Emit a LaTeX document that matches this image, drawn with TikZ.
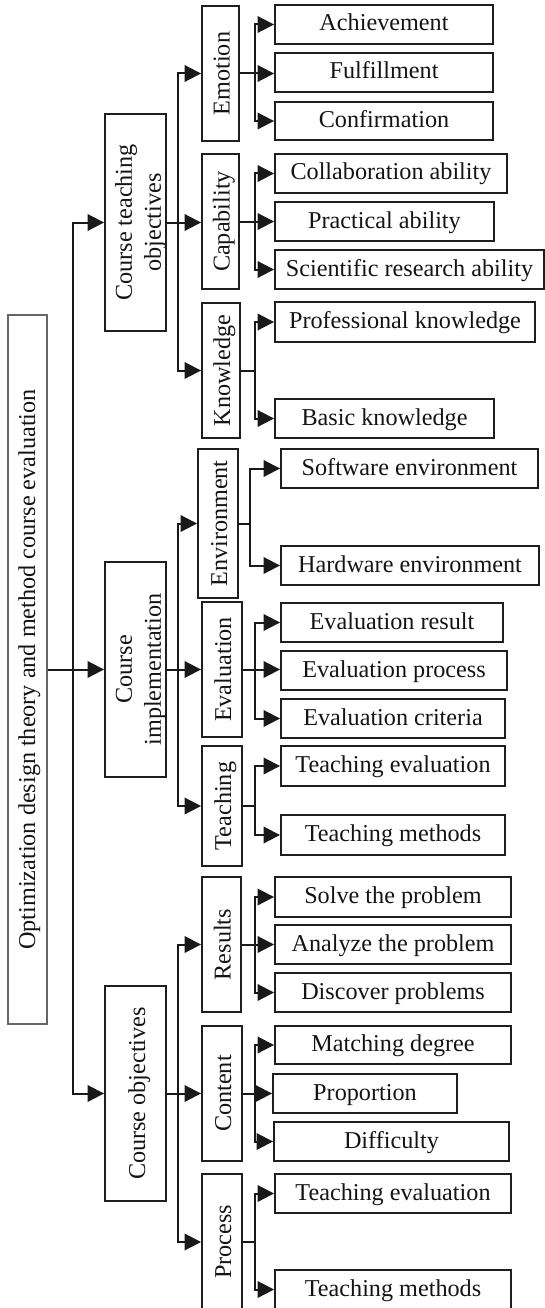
\documentclass[tikz,border=0pt]{standalone}
\usepackage{fontspec}
\setmainfont{Liberation Serif}
\usetikzlibrary{arrows.meta}
\newcommand\rt[2][18]{\rotatebox{90}{\raisebox{0pt}[#1pt][0pt]{#2}}}
\newcommand\rtt[2][50.8]{\rotatebox{90}{\raisebox{0pt}[#1pt][0pt]{\begin{tabular}[b]{@{}c@{}}#2\end{tabular}}}}
\newcommand\bx[7]{\node[#6, minimum width={(#4)-(#2)}, minimum height={(#5)-(#3)}] (#1) at ({((#2)+(#4))/2},{((#3)+(#5))/2}) {#7};}
\begin{document}
\begin{tikzpicture}[x=1pt, y=-1pt,
  every node/.style={font=\fontsize{24.2}{29}\selectfont, text=black!92},
  lbox/.style={draw=black!88, line width=1.9pt, inner sep=0pt},
  hbox/.style={lbox, text height=16.5pt, text depth=3.5pt},
  rootbox/.style={draw=black!60, line width=1.2pt, inner sep=0pt},
  ln/.style={line width=2pt, draw=black!90},
  arr/.style={ln, -{Triangle[length=16.5pt,width=16.5pt]}}]
\useasboundingbox (0,0) rectangle (545,1308);
% root
\bx{root}{8}{315}{47}{1024}{rootbox}{\rt[15]{Optimization design theory and method course evaluation}}
% level 1
\bx{cto}{105}{114}{166}{331}{lbox}{\rtt{Course teaching\\objectives}}
\bx{ci}{105}{562}{166}{777}{lbox}{\rtt{Course\\implementation}}
\bx{co}{105}{986}{166}{1201}{lbox}{\rt[19]{Course objectives}}
% level 2
\bx{emo}{202}{6}{239}{141}{lbox}{\rt{Emotion}}
\bx{cap}{202}{154}{239}{289}{lbox}{\rt{Capability}}
\bx{kno}{202}{303}{240}{438}{lbox}{\rt{Knowledge}}
\bx{env}{198}{449}{238}{598}{lbox}{\rt{Environment}}
\bx{eva}{202}{602}{242}{737}{lbox}{\rt{Evaluation}}
\bx{tea}{202}{746}{242}{866}{lbox}{\rt{Teaching}}
\bx{res}{202}{877}{241}{1012}{lbox}{\rt{Results}}
\bx{con}{202}{1026}{242}{1161}{lbox}{\rt{Content}}
\bx{pro}{202}{1174}{242}{1310}{lbox}{\rt{Process}}
% level 3
\bx{a1}{275}{5}{493}{44}{hbox}{Achievement}
\bx{a2}{275}{53}{493}{92}{hbox}{Fulfillment}
\bx{a3}{275}{102}{493}{140}{hbox}{Confirmation}
\bx{b1}{275}{154}{507}{193}{hbox}{Collaboration ability}
\bx{b2}{275}{202}{494}{241}{hbox}{Practical ability}
\bx{b3}{275}{250}{544}{289}{hbox}{Scientific research ability}
\bx{c1}{275}{302}{535}{342}{hbox}{Professional knowledge}
\bx{c2}{275}{399}{494}{438}{hbox}{Basic knowledge}
\bx{d1}{281}{449}{538}{488}{hbox}{Software environment}
\bx{d2}{281}{546}{539}{585}{hbox}{Hardware environment}
\bx{e1}{281}{603}{503}{642}{hbox}{Evaluation result}
\bx{e2}{281}{651}{507}{690}{hbox}{Evaluation process}
\bx{e3}{281}{699}{505}{738}{hbox}{Evaluation criteria}
\bx{f1}{281}{746}{505}{786}{hbox}{Teaching evaluation}
\bx{f2}{281}{815}{505}{855}{hbox}{Teaching methods}
\bx{g1}{275}{877}{511}{917}{hbox}{Solve the problem}
\bx{g2}{275}{925}{511}{964}{hbox}{Analyze the problem}
\bx{g3}{275}{973}{511}{1012}{hbox}{Discover problems}
\bx{h1}{275}{1026}{511}{1064}{hbox}{Matching degree}
\bx{h2}{273}{1074}{457}{1113}{hbox}{Proportion}
\bx{h3}{274}{1122}{509}{1161}{hbox}{Difficulty}
\bx{i1}{275}{1174}{511}{1213}{hbox}{Teaching evaluation}
\bx{i2}{275}{1270}{511}{1309}{hbox}{Teaching methods}
% helper coordinates
\coordinate (T) at (73,669.5);
\coordinate (X1) at (178,0);
\coordinate (X3) at (255,0);
\coordinate (X3e) at (250,0);
% root -> level 1
\draw[arr] (root.east) -- (ci.west);
\draw[arr] (T) |- (cto.west);
\draw[arr] (T) |- (co.west);
% level 1 -> level 2
\draw[arr] (cto.east) -- (cto.east -| cap.west);
\draw[arr] (cto.east -| X1) |- (emo.west);
\draw[arr] (cto.east -| X1) |- (kno.west);
\draw[arr] (ci.east) -- (ci.east -| eva.west);
\draw[arr] (ci.east -| X1) |- (env.west);
\draw[arr] (ci.east -| X1) |- (tea.west);
\draw[arr] (co.east) -- (co.east -| con.west);
\draw[arr] (co.east -| X1) |- (res.west);
\draw[arr] (co.east -| X1) |- (pro.west);
% level 2 -> level 3
\draw[arr] (emo.east) -- (emo.east -| a2.west);
\draw[arr] (emo.east -| X3) |- (a1.west);
\draw[arr] (emo.east -| X3) |- (a3.west);
\draw[arr] (cap.east) -- (cap.east -| b2.west);
\draw[arr] (cap.east -| X3) |- (b1.west);
\draw[arr] (cap.east -| X3) |- (b3.west);
\draw[ln] (kno.east) -- (kno.east -| X3);
\draw[arr] (kno.east -| X3) |- (c1.west);
\draw[arr] (kno.east -| X3) |- (c2.west);
\draw[ln] (env.east) -- (env.east -| X3e);
\draw[arr] (env.east -| X3e) |- (d1.west);
\draw[arr] (env.east -| X3e) |- (d2.west);
\draw[arr] (eva.east) -- (eva.east -| e2.west);
\draw[arr] (eva.east -| X3) |- (e1.west);
\draw[arr] (eva.east -| X3) |- (e3.west);
\draw[ln] (tea.east) -- (tea.east -| X3);
\draw[arr] (tea.east -| X3) |- (f1.west);
\draw[arr] (tea.east -| X3) |- (f2.west);
\draw[arr] (res.east) -- (res.east -| g2.west);
\draw[arr] (res.east -| X3) |- (g1.west);
\draw[arr] (res.east -| X3) |- (g3.west);
\draw[arr] (con.east) -- (con.east -| h2.west);
\draw[arr] (con.east -| X3) |- (h1.west);
\draw[arr] (con.east -| X3) |- (h3.west);
\draw[ln] (pro.east) -- (pro.east -| X3);
\draw[arr] (pro.east -| X3) |- (i1.west);
\draw[arr] (pro.east -| X3) |- (i2.west);
\end{tikzpicture}
\end{document}
